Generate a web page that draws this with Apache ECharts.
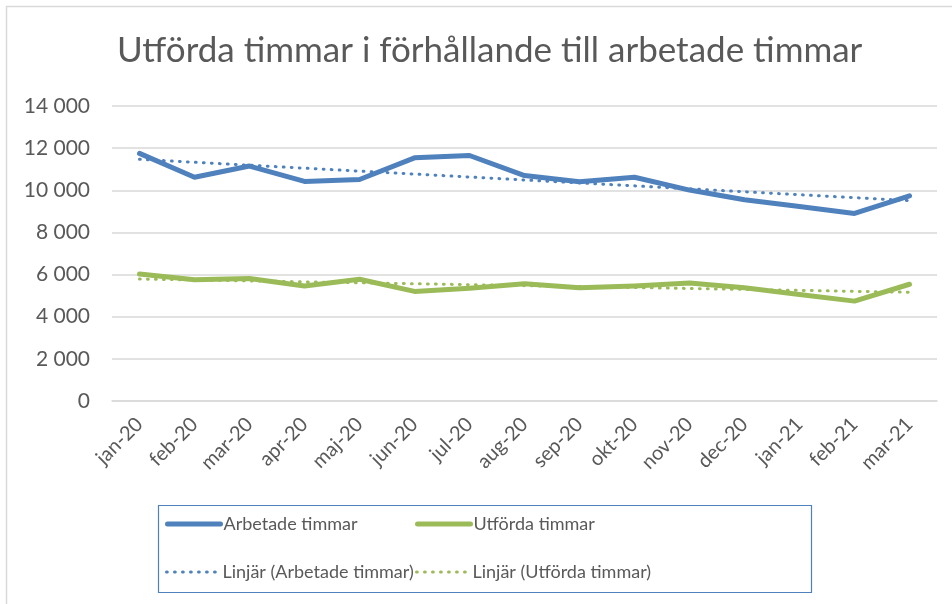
<!DOCTYPE html>
<html>
<head>
<meta charset="utf-8">
<script src="https://cdn.jsdelivr.net/npm/echarts@6/dist/echarts.min.js"></script>
<style>html,body{margin:0;padding:0;background:#fff;}#c{width:952px;height:604px;}</style>
</head>
<body>
<div id="c"></div>
<script>
var categories = ['jan-20','feb-20','mar-20','apr-20','maj-20','jun-20','jul-20','aug-20','sep-20','okt-20','nov-20','dec-20','jan-21','feb-21','mar-21'];
var arbetade = [11750, 10620, 11150, 10420, 10510, 11540, 11650, 10700, 10400, 10620, 10010, 9550, 9230, 8900, 9740];
var utforda = [6030, 5750, 5810, 5460, 5780, 5200, 5350, 5560, 5370, 5460, 5600, 5370, 5050, 4740, 5540];
// Trend line endpoints (straight line between them)
var trendArbetade = [11470, null, null, null, null, null, null, null, null, null, null, null, null, null, 9510];
var trendUtforda = [5790, null, null, null, null, null, null, null, null, null, null, null, null, null, 5160];
var yTicks = {min: 0, max: 14000, interval: 2000};

var FONT = 'Lato';
var TXT = '#595959';
var BLUE = '#4f81bd';
var GREEN = '#9bbb59';

var chart = echarts.init(document.getElementById('c'));
function legendItem(name, left, top, lw, dotted) {
  var ls = {width: lw, cap: 'round'};
  if (dotted) ls.type = [0.8, 7.2];
  return {
    data: [name], left: left, top: top, orient: 'horizontal',
    itemWidth: 53, itemHeight: 10, selectedMode: false,
    itemStyle: {opacity: 0},
    lineStyle: ls,
    textStyle: {fontFamily: FONT, fontSize: 18, color: TXT, padding: [0,0,0,-2]},
    padding: 0
  };
}
chart.setOption({
  animation: false,
  title: {
    text: 'Utförda timmar i förhållande till arbetade timmar',
    left: 112, top: 28,
    textStyle: {fontFamily: FONT, fontSize: 35, fontWeight: 'normal', color: TXT}
  },
  graphic: [
    {type: 'rect', shape: {x: 6.5, y: 6.5, width: 980, height: 640}, style: {fill: 'none', stroke: '#d9d9d9', lineWidth: 1.5}, silent: true},
    {type: 'rect', shape: {x: 158.5, y: 505.5, width: 653, height: 87}, style: {fill: 'none', stroke: BLUE, lineWidth: 1.2}, silent: true}
  ],
  legend: [
    legendItem('Arbetade timmar', 165, 515, 5, false),
    legendItem('Utförda timmar', 415, 515, 5, false),
    legendItem('Linjär (Arbetade timmar)', 165, 563, 3, true),
    legendItem('Linjär (Utförda timmar)', 415, 563, 3, true)
  ],
  grid: {left: 112, right: 15, top: 106, bottom: 203, containLabel: false},
  xAxis: {
    type: 'category', data: categories, boundaryGap: true,
    axisLine: {lineStyle: {color: '#d9d9d9', width: 1.5}},
    axisTick: {show: false},
    axisLabel: {rotate: 45, margin: 20, fontFamily: FONT, fontSize: 20, color: TXT, interval: 0}
  },
  yAxis: {
    type: 'value', min: yTicks.min, max: yTicks.max, interval: yTicks.interval,
    axisLine: {show: false}, axisTick: {show: false},
    splitLine: {lineStyle: {color: '#d9d9d9', width: 1.5}},
    axisLabel: {margin: 22, fontFamily: FONT, fontSize: 21, color: TXT,
      formatter: function (v) { return String(v).replace(/\B(?=(\d{3})+(?!\d))/g, ' '); }}
  },
  series: [
    {name: 'Arbetade timmar', type: 'line', data: arbetade, symbol: 'none', z: 3,
      lineStyle: {color: BLUE, width: 5, cap: 'round', join: 'round'}, itemStyle: {color: BLUE}},
    {name: 'Utförda timmar', type: 'line', data: utforda, symbol: 'none', z: 3,
      lineStyle: {color: GREEN, width: 5, cap: 'round', join: 'round'}, itemStyle: {color: GREEN}},
    {name: 'Linjär (Arbetade timmar)', type: 'line', data: trendArbetade, connectNulls: true, symbol: 'none', z: 4,
      lineStyle: {color: BLUE, width: 3, type: [0.8, 7.2], cap: 'round'}, itemStyle: {color: BLUE}},
    {name: 'Linjär (Utförda timmar)', type: 'line', data: trendUtforda, connectNulls: true, symbol: 'none', z: 4,
      lineStyle: {color: GREEN, width: 3, type: [0.8, 7.2], cap: 'round'}, itemStyle: {color: GREEN}}
  ]
});
</script>
</body>
</html>
